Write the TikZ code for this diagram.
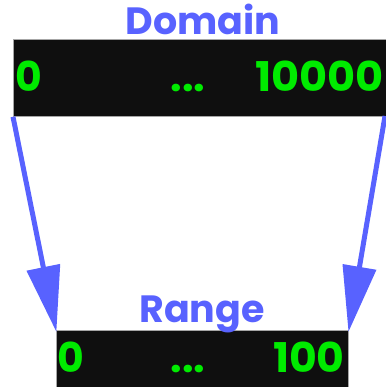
\documentclass[tikz,border=0pt]{standalone}
\usepackage{fontspec}
\setmainfont{Poppins}
\usepackage{tikz}
\usetikzlibrary{arrows.meta,positioning}
\definecolor{mapblue}{RGB}{88,98,255}
\definecolor{numgreen}{RGB}{0,235,0}
\definecolor{barbg}{RGB}{15,15,15}

\begin{document}
\begin{tikzpicture}[x=1pt,y=-1pt,
  bar/.style={fill=barbg,draw=gray!70,line width=0.8pt,inner sep=0pt},
  num/.style={text=numgreen,font=\fontsize{41}{41}\selectfont\bfseries,inner sep=0pt},
  title/.style={text=mapblue,font=\fontsize{38}{38}\selectfont\bfseries,inner sep=0pt},
  ar/.style={draw=mapblue,line width=5pt,-{Triangle[length=66pt,width=33pt]},shorten >=-2pt}]
\useasboundingbox (0,0) rectangle (385,387);
\node[bar,minimum width=374pt,minimum height=77pt,anchor=north west] (dom) at (13,39) {};
\node[bar,minimum width=292pt,minimum height=57pt,anchor=north west] (rng) at (56,330) {};
\node[title,anchor=base] (domt) at (203,35) {Domain};
\node[title,anchor=base] (rngt) at (202,322) {Range};
% numbers
\node[num,anchor=base west] (dlo) at (15,92) {0};
\node[num,anchor=base] (ddots) at (188,92) {...};
\node[num,anchor=base east,xscale=1.05] (dhi) at (384,92) {10000};
\node[num,anchor=base west] (rlo) at (57,372) {0};
\node[num,anchor=base] (rdots) at (188,372) {...};
\node[num,anchor=base east,xscale=1.04] (rhi) at (345,372) {100};
% mapping
\coordinate (dr) at (385,116);
\draw[ar] (dom.south west) -- (rng.north west);
\draw[ar] (dr) -- (rng.north east);
\end{tikzpicture}
\end{document}
